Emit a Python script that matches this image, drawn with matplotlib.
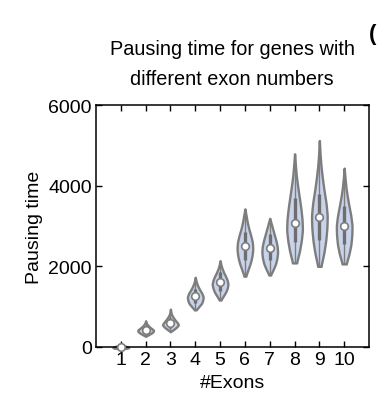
import numpy as np
import matplotlib
matplotlib.use("Agg")
import matplotlib.pyplot as plt

plt.rcParams['font.family'] = ['Liberation Sans', 'DejaVu Sans']

exons = [1, 2, 3, 4, 5, 6, 7, 8, 9, 10]
medians = [10, 430, 595, 1270, 1620, 2500, 2455, 3085, 3225, 3010]
q1 = [-10, 350, 480, 1100, 1400, 2150, 2150, 2600, 2650, 2550]
q3 = [30, 520, 720, 1450, 1850, 2850, 2800, 3700, 3800, 3500]
mins = [-40, 265, 380, 920, 1165, 1755, 1785, 2085, 2000, 2060]
maxs = [50, 650, 940, 1730, 2140, 3425, 3190, 4790, 5120, 4435]
# relative half-width of each violin at 11 evenly spaced heights (min -> max)
profiles = [
    [0.3, 0.7, 0.95, 1.0, 0.95, 0.85, 0.7, 0.55, 0.4, 0.2, 0.0],
    [0.0, 0.35, 0.7, 0.95, 1.0, 0.75, 0.5, 0.3, 0.15, 0.05, 0.0],
    [0.0, 0.4, 0.75, 1.0, 0.85, 0.6, 0.4, 0.22, 0.1, 0.04, 0.0],
    [0.1, 0.45, 0.8, 0.95, 1.0, 0.85, 0.6, 0.38, 0.2, 0.08, 0.0],
    [0.1, 0.4, 0.7, 0.9, 1.0, 0.9, 0.7, 0.45, 0.25, 0.1, 0.0],
    [0.1, 0.4, 0.7, 0.9, 1.0, 0.95, 0.75, 0.5, 0.3, 0.15, 0.0],
    [0.1, 0.45, 0.75, 0.92, 1.0, 0.95, 0.8, 0.6, 0.4, 0.2, 0.0],
    [0.25, 0.6, 0.85, 1.0, 0.95, 0.8, 0.6, 0.4, 0.22, 0.1, 0.0],
    [0.2, 0.55, 0.8, 0.95, 1.0, 0.85, 0.6, 0.38, 0.2, 0.08, 0.0],
    [0.25, 0.6, 0.85, 0.97, 1.0, 0.85, 0.62, 0.4, 0.22, 0.1, 0.0],
]
yticks = [0, 2000, 4000, 6000]

fill_c = '#c9d4ec'
edge_c = '#7d7d7d'

fig = plt.figure(figsize=(3.77, 4.06), dpi=100)
ax = fig.add_axes([0.2546, 0.1429, 0.7242, 0.596])

vpstats = []
for i in range(len(exons)):
    prof = np.array(profiles[i])
    knots = np.linspace(mins[i], maxs[i], len(prof))
    coords = np.linspace(mins[i], maxs[i], 200)
    vals = np.interp(coords, knots, prof)
    k = np.ones(11) / 11
    vals = np.convolve(np.pad(vals, 5, mode='edge'), k, mode='valid')
    vals[-1] = 0.0
    vpstats.append(dict(coords=coords, vals=vals, mean=medians[i],
                        median=medians[i], min=mins[i], max=maxs[i]))

parts = ax.violin(vpstats, positions=exons, widths=0.63,
                  showmeans=False, showextrema=False, showmedians=False)
for b in parts['bodies']:
    b.set_facecolor(fill_c)
    b.set_edgecolor(edge_c)
    b.set_linewidth(1.7)
    b.set_alpha(1)
    b.set_clip_on(False)

ax.vlines(exons, mins, maxs, color=edge_c, lw=1.0, clip_on=False, zorder=3)
ax.vlines(exons, q1, q3, color='#6e6e6e', lw=2.4, clip_on=False, zorder=3)
ax.plot(exons, medians, 'o', ms=5.5, mfc='white', mec=edge_c, mew=1.2,
        clip_on=False, zorder=4)

ax.set_xlim(0, 11)
ax.set_ylim(0, 6000)
ax.set_xticks(exons)
ax.set_yticks(yticks)
ax.tick_params(direction='in', top=True, right=True, length=4, width=1,
               labelsize=14, pad=3)
for s in ax.spines.values():
    s.set_linewidth(1.1)

ax.set_ylabel('Pausing time', fontsize=14, labelpad=4)
ax.set_xlabel('#Exons', fontsize=14, labelpad=4)

fig.text(0.616, 0.877, 'Pausing time for genes with', ha='center', va='center', fontsize=14.3)
fig.text(0.616, 0.803, 'different exon numbers', ha='center', va='center', fontsize=14.3)
fig.text(0.999, 0.915, '(', ha='right', va='center', fontsize=16, fontweight='bold')

fig.savefig('out.png', dpi=100)
